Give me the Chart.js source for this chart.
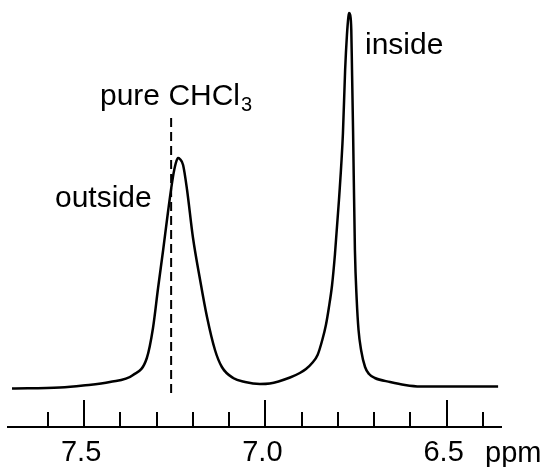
<!DOCTYPE html>
<html>
<head>
<meta charset="utf-8">
<script src="https://cdn.jsdelivr.net/npm/chart.js@4/dist/chart.umd.min.js"></script>
<style>
html,body{margin:0;padding:0;background:#fff;}
canvas{display:block;}
</style>
</head>
<body>
<canvas id="c" width="547" height="467"></canvas>
<script>
// Chemical shift (ppm) and signal intensity
const ppm = [7.699,7.567,7.503,7.429,7.365,7.327,7.310,7.296,7.282,7.269,7.255,7.247,7.241,7.236,7.227,7.216,7.200,7.180,7.161,7.139,7.120,7.089,7.056,7.015,6.988,6.932,6.905,6.888,6.871,6.856,6.843,6.833,6.825,6.816,6.808,6.797,6.786,6.780,6.775,6.771,6.769,6.766,6.763,6.761,6.758,6.753,6.748,6.743,6.736,6.725,6.714,6.698,6.656,6.615,6.573,6.358];
const intensity = [-0.5,0.5,2.5,6,13,30,60,100,138,175,211,225,230,229,223,198,151,108,71,38,21,10,6,4,4.5,10.5,15,19,25,33,48,63,80,103,134,188,255,318,353,371,375,373,358,318,255,138,88,58,38,21,14,10,6,3,1.5,1.5];
// Reference position of pure CHCl3 (dashed marker)
const refPpm = [7.26, 7.26];
const refIntensity = [270, -5];
// Axis ticks
const tickValues = [7.6,7.5,7.4,7.3,7.2,7.1,7.0,6.9,6.8,6.7,6.6,6.5,6.4];
const majorTicks = [7.5,7.0,6.5];
const axisMin = 6.35, axisMax = 7.71;

const FONT = '"Liberation Sans", Arial, Helvetica, sans-serif';
const TICK_SIZE = 29, TICK_PAD = 1;

const decor = {
  id: 'decor',
  afterDraw(chart) {
    const ctx = chart.ctx;
    const xs = chart.scales.x;
    const base = chart.chartArea.bottom;
    ctx.save();
    ctx.strokeStyle = '#000';
    ctx.lineWidth = 2;
    tickValues.forEach(v => {
      const px = Math.round(xs.getPixelForValue(v));
      const len = majorTicks.some(m => Math.abs(m - v) < 1e-6) ? 27 : 15;
      ctx.beginPath();
      ctx.moveTo(px, base);
      ctx.lineTo(px, base - len);
      ctx.stroke();
    });
    ctx.fillStyle = '#000';
    ctx.textBaseline = 'alphabetic';
    ctx.textAlign = 'left';
    ctx.font = '30px ' + FONT;
    ctx.fillText('pure CHCl', 100, 105);
    const w = ctx.measureText('pure CHCl').width;
    ctx.font = '20px ' + FONT;
    ctx.fillText('3', 100 + w + 1, 111);
    ctx.font = '30px ' + FONT;
    ctx.fillText('outside', 55, 207);
    ctx.fillText('inside', 365, 54);
    ctx.font = TICK_SIZE + 'px ' + FONT;
    ctx.fillText('ppm', 485, 462);
    ctx.restore();
  }
};

new Chart(document.getElementById('c'), {
  type: 'line',
  data: {
    datasets: [
      {
        data: ppm.map((x, i) => ({x: x, y: intensity[i]})),
        borderColor: '#000',
        borderWidth: 2.5,
        pointRadius: 0,
        fill: false,
        cubicInterpolationMode: 'monotone'
      },
      {
        data: refPpm.map((x, i) => ({x: x, y: refIntensity[i]})),
        borderColor: '#000',
        borderWidth: 2,
        borderDash: [9, 5],
        pointRadius: 0,
        fill: false,
        tension: 0
      }
    ]
  },
  options: {
    responsive: false,
    animation: false,
    devicePixelRatio: 1,
    layout: { padding: { left: 8, right: 46, top: 0, bottom: 0 } },
    plugins: { legend: { display: false }, tooltip: { enabled: false } },
    scales: {
      x: {
        type: 'linear',
        reverse: true,
        min: axisMin,
        max: axisMax,
        afterBuildTicks: (s) => { s.ticks = tickValues.map(v => ({ value: v })); },
        afterFit: (s) => { s.height = 40; },
        grid: { display: false },
        border: { display: true, color: '#000', width: 2 },
        ticks: {
          autoSkip: false,
          maxRotation: 0,
          padding: TICK_PAD,
          labelOffset: -3,
          color: '#000',
          font: { family: FONT, size: TICK_SIZE },
          callback: (v) => majorTicks.some(m => Math.abs(m - v) < 1e-6) ? Number(v).toFixed(1) : ''
        }
      },
      y: {
        display: false,
        min: -39,
        max: 388
      }
    }
  },
  plugins: [decor]
});
</script>
</body>
</html>
